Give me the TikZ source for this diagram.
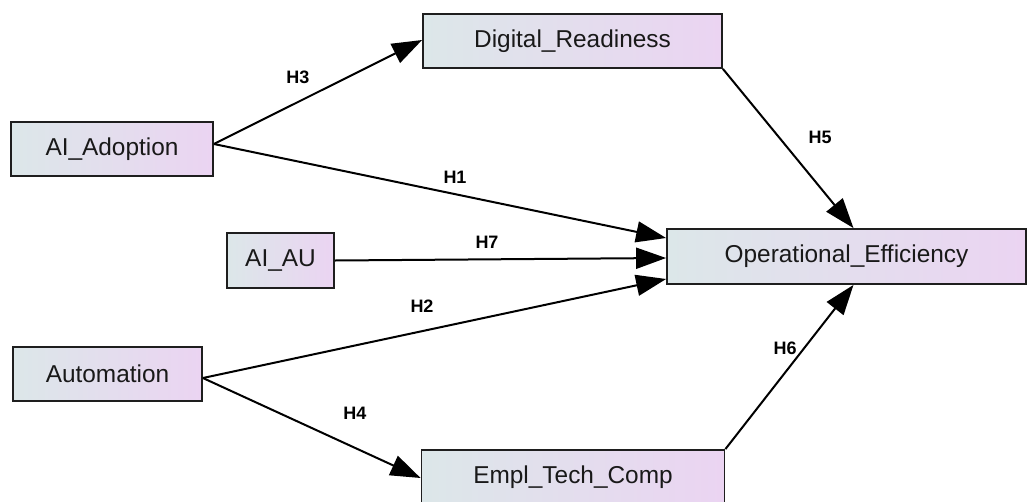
\documentclass[tikz,border=0pt]{standalone}
\usepackage{fontspec}
\setmainfont{Liberation Sans}
\usetikzlibrary{arrows.meta,calc}
\definecolor{boxleft}{HTML}{DCE7E9}
\definecolor{boxright}{HTML}{EBD4F2}
\definecolor{boxline}{HTML}{1E1E1E}
\tikzset{
  varbox/.style={rectangle, draw=boxline, line width=1.8pt, left color=boxleft, right color=boxright,
    shading angle=90, inner sep=0pt, font=\fontsize{24.4}{28}\selectfont, text=black!90},
  edge/.style={draw=black, line width=2pt, -{Triangle[length=30pt,width=21pt]}},
  hlabel/.style={font=\fontsize{18}{20}\selectfont\bfseries, text=black, inner sep=0pt}
}
\begin{document}
\begin{tikzpicture}[x=1pt,y=-1pt]
\useasboundingbox (0,0) rectangle (1028,501);
% nodes
\node[varbox, minimum width=202pt, minimum height=54pt] (aa) at (112,149) {AI\_Adoption};
\node[varbox, minimum width=299pt, minimum height=54pt] (dr) at (572.5,41) {Digital\_Readiness};
\node[varbox, minimum width=359pt, minimum height=55pt] (oe) at (846.5,256.5) {Operational\_Efficiency};
\node[varbox, minimum width=107pt, minimum height=55pt] (au) at (280.5,260.5) {AI\_AU};
\node[varbox, minimum width=189pt, minimum height=54pt] (am) at (107.5,374) {Automation};
\node[varbox, minimum width=303pt, minimum height=54pt] (ec) at (573,477) {Empl\_Tech\_Comp};
% edges
\draw[edge] ([yshift=5pt]aa.east) -- ([yshift=1pt]dr.west);
\draw[edge] ([yshift=5pt]aa.east) -- ([yshift=18.5pt]oe.west);
\draw[edge] (au.east) -- ([yshift=-1.5pt]oe.west);
\draw[edge] ([yshift=-4pt]am.east) -- ([yshift=-22.5pt]oe.west);
\draw[edge] ([yshift=-4pt]am.east) -- ([yshift=-1pt]ec.west);
\draw[edge] (dr.south east) -- ([xshift=7pt]oe.north);
\draw[edge] (ec.north east) -- ([xshift=7pt]oe.south);
% labels
\node[hlabel] (h3) at (298,77) {H3};
\node[hlabel] (h1) at (455,177) {H1};
\node[hlabel] (h7) at (487,242) {H7};
\node[hlabel] (h2) at (422,306) {H2};
\node[hlabel] (h4) at (355,413) {H4};
\node[hlabel] (h5) at (820,137) {H5};
\node[hlabel] (h6) at (785,348) {H6};
\end{tikzpicture}
\end{document}
